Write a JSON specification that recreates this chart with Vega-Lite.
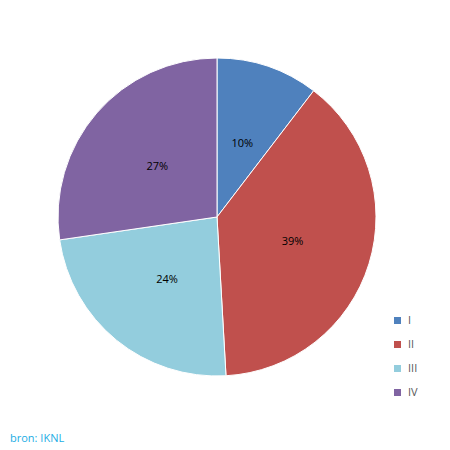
{
  "$schema": "https://vega.github.io/schema/vega-lite/v6.json",
  "width": 434,
  "height": 434,
  "autosize": "none",
  "padding": {"left": 0, "top": 0, "right": 16, "bottom": 16},
  "background": "white",
  "title": {
    "text": "bron: IKNL",
    "orient": "bottom",
    "anchor": "start",
    "frame": "group",
    "offset": -1,
    "dx": 10,
    "font": "Open Sans",
    "fontSize": 11,
    "fontWeight": "normal",
    "color": "#1CADE4"
  },
  "data": {
    "values": [
      {"stadium": "I", "share": 0.104},
      {"stadium": "II", "share": 0.387},
      {"stadium": "III", "share": 0.236},
      {"stadium": "IV", "share": 0.273}
    ]
  },
  "encoding": {
    "theta": {"field": "share", "type": "quantitative", "stack": true},
    "order": {"field": "stadium", "type": "nominal", "sort": "ascending"}
  },
  "layer": [
    {
      "mark": {"type": "arc", "outerRadius": 159, "stroke": "white", "strokeWidth": 1},
      "encoding": {
        "color": {
          "field": "stadium",
          "type": "nominal",
          "scale": {"domain": ["I", "II", "III", "IV"], "range": ["#4F81BD", "#C0504D", "#93CDDD", "#8064A2"]},
          "legend": {
            "title": null,
            "orient": "none",
            "legendX": 392,
            "legendY": 315,
            "symbolType": "square",
            "symbolSize": 49,
            "symbolStrokeWidth": 0,
            "labelFont": "Open Sans",
            "labelFontSize": 11,
            "labelColor": "#595959",
            "labelOffset": 5,
            "rowPadding": 12
          }
        }
      }
    },
    {
      "mark": {"type": "text", "radius": 79, "dy": 2, "font": "Open Sans", "fontSize": 11, "color": "black"},
      "encoding": {
        "text": {"field": "share", "type": "quantitative", "format": ".0%"}
      }
    }
  ]
}
